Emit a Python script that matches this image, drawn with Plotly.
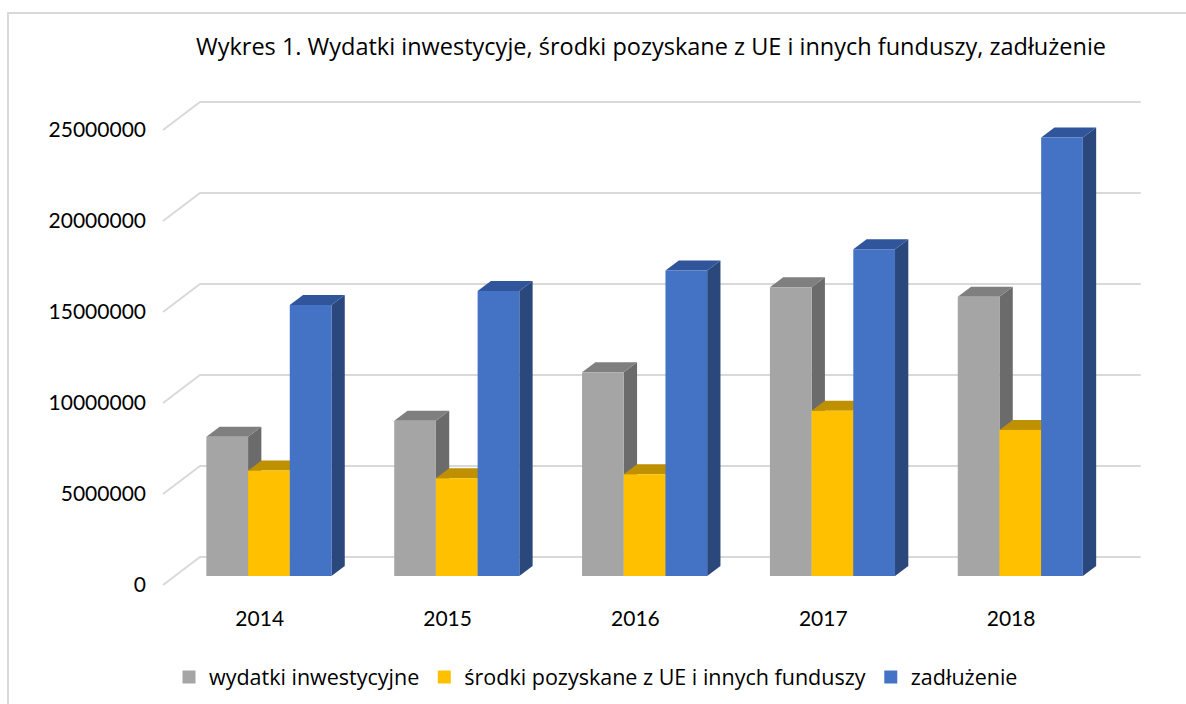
import plotly.graph_objects as go

# ---------------- data ----------------
years = ["2014", "2015", "2016", "2017", "2018"]
series_names = ["wydatki inwestycyjne", "środki pozyskane z UE i innych funduszy", "zadłużenie"]
wydatki = [7650000, 8530000, 11190000, 15860000, 15350000]
srodki = [5790000, 5370000, 5590000, 9080000, 8020000]
zadluzenie = [14890000, 15660000, 16780000, 17950000, 24090000]
y_tick_values = [0, 5000000, 10000000, 15000000, 20000000, 25000000]
y_tick_labels = ["0", "5000000", "10000000", "15000000", "20000000", "25000000"]
title_text = "Wykres 1. Wydatki inwestycyje, środki pozyskane z UE i innych funduszy, zadłużenie"

series_values = [wydatki, srodki, zadluzenie]
front_colors = ["#A5A5A5", "#FFC000", "#4472C4"]
top_colors = ["#7F7F7F", "#BF9000", "#31559A"]
side_colors = ["#6B6B6B", "#A67D00", "#2B487C"]

# ---------------- layout geometry (pixels) ----------------
FIG_W, FIG_H = 1186, 704
L, W = 147, 1005
T, H = 85, 515
X_RANGE = [-0.6, 4.75]
PX_PER_CAT = W / (X_RANGE[1] - X_RANGE[0])
PX_PER_VAL = 18.2e-6
Y_MIN = -(T + H - 585) / PX_PER_VAL
Y_MAX = Y_MIN + H / PX_PER_VAL


def ddx(px):
    return px / PX_PER_CAT


def ddy(px):
    return px / PX_PER_VAL


BW = ddx(41.7)            # bar width
GROUP_OFF = 0.049         # group centre offset (includes depth shift)
BASE = ddy(9)             # bar front plane lift
DEPTH_X, DEPTH_Y = ddx(13.3), ddy(10)
WALL_X, WALL_Y = ddx(37), ddy(28)
FLOOR_LEFT = ddx(163.3 - 260)
WALL_RIGHT = ddx(1141 - 260) - WALL_X

fig = go.Figure()

# gridlines on back wall + side wall diagonals
gx, gy = [], []
for v in y_tick_values:
    gx += [FLOOR_LEFT, FLOOR_LEFT + WALL_X, WALL_RIGHT + WALL_X, None]
    gy += [v, v + WALL_Y, v + WALL_Y, None]
fig.add_trace(go.Scatter(x=gx, y=gy, mode="lines",
                         line=dict(color="#D9D9D9", width=2),
                         showlegend=False, hoverinfo="skip"))

# 3D-looking columns
for i, vals in enumerate(series_values):
    fx, fy, tx, ty, sx, sy = [], [], [], [], [], []
    for j, v in enumerate(vals):
        x0 = j + GROUP_OFF + (i - 1.5) * BW
        x1 = x0 + BW
        y0 = BASE
        y1 = v + BASE
        fx += [x0, x1, x1, x0, x0, None]
        fy += [y0, y0, y1, y1, y0, None]
        tx += [x0, x1, x1 + DEPTH_X, x0 + DEPTH_X, x0, None]
        ty += [y1, y1, y1 + DEPTH_Y, y1 + DEPTH_Y, y1, None]
        sx += [x1, x1 + DEPTH_X, x1 + DEPTH_X, x1, x1, None]
        sy += [y0, y0 + DEPTH_Y, y1 + DEPTH_Y, y1, y0, None]
    for xs, ys, col in [(sx, sy, side_colors[i]), (tx, ty, top_colors[i]), (fx, fy, front_colors[i])]:
        fig.add_trace(go.Scatter(x=xs, y=ys, mode="lines", fill="toself",
                                 fillcolor=col, line=dict(width=0, color=col),
                                 showlegend=False, hoverinfo="skip"))

# legend entries
for i, name in enumerate(series_names):
    fig.add_trace(go.Scatter(x=[None], y=[None], mode="markers", name=name,
                             marker=dict(symbol="square", size=13, color=front_colors[i])))

FONT = "Lato, 'Open Sans', sans-serif"
WIDE_FONT = "'Open Sans', Lato, sans-serif"


def pxx(p):
    return (p - L) / W


def pxy(p):
    return (T + H - p) / H


fig.update_layout(
    width=FIG_W, height=FIG_H,
    margin=dict(l=L, r=FIG_W - L - W, t=T, b=FIG_H - T - H, pad=0),
    paper_bgcolor="white", plot_bgcolor="white",
    font=dict(family=FONT, size=21, color="#000000"),
    title=dict(text=title_text, x=651 / FIG_W, xref="container", xanchor="center",
               y=1 - 47 / FIG_H, yref="container", yanchor="middle",
               font=dict(family=WIDE_FONT, size=23.5, color="#000000")),
    xaxis=dict(range=X_RANGE, tickvals=list(range(len(years))), ticktext=years,
               showgrid=False, zeroline=False, showline=False, ticks="",
               ticklabelstandoff=4,
               tickfont=dict(size=21, color="#000000")),
    yaxis=dict(range=[Y_MIN, Y_MAX], tickvals=y_tick_values, ticktext=y_tick_labels,
               showgrid=False, zeroline=False, showline=False, ticks="",
               tickfont=dict(size=21, color="#000000")),
    showlegend=True,
    legend=dict(orientation="h", xref="container", yref="container",
                x=596 / FIG_W, xanchor="center", y=1 - 677 / FIG_H, yanchor="middle",
                font=dict(family=WIDE_FONT, size=21.5, color="#000000"),
                itemwidth=30, bgcolor="rgba(0,0,0,0)"),
    hovermode=False,
    shapes=[dict(type="rect", xref="paper", yref="paper",
                 x0=pxx(8), x1=pxx(1196), y0=pxy(13), y1=pxy(714),
                 line=dict(color="#D9D9D9", width=2), fillcolor="rgba(0,0,0,0)",
                 layer="below")],
)

fig.write_html("out.html", config={"displayModeBar": False},
               post_script="document.body.style.margin='0';document.body.style.overflow='hidden';")
